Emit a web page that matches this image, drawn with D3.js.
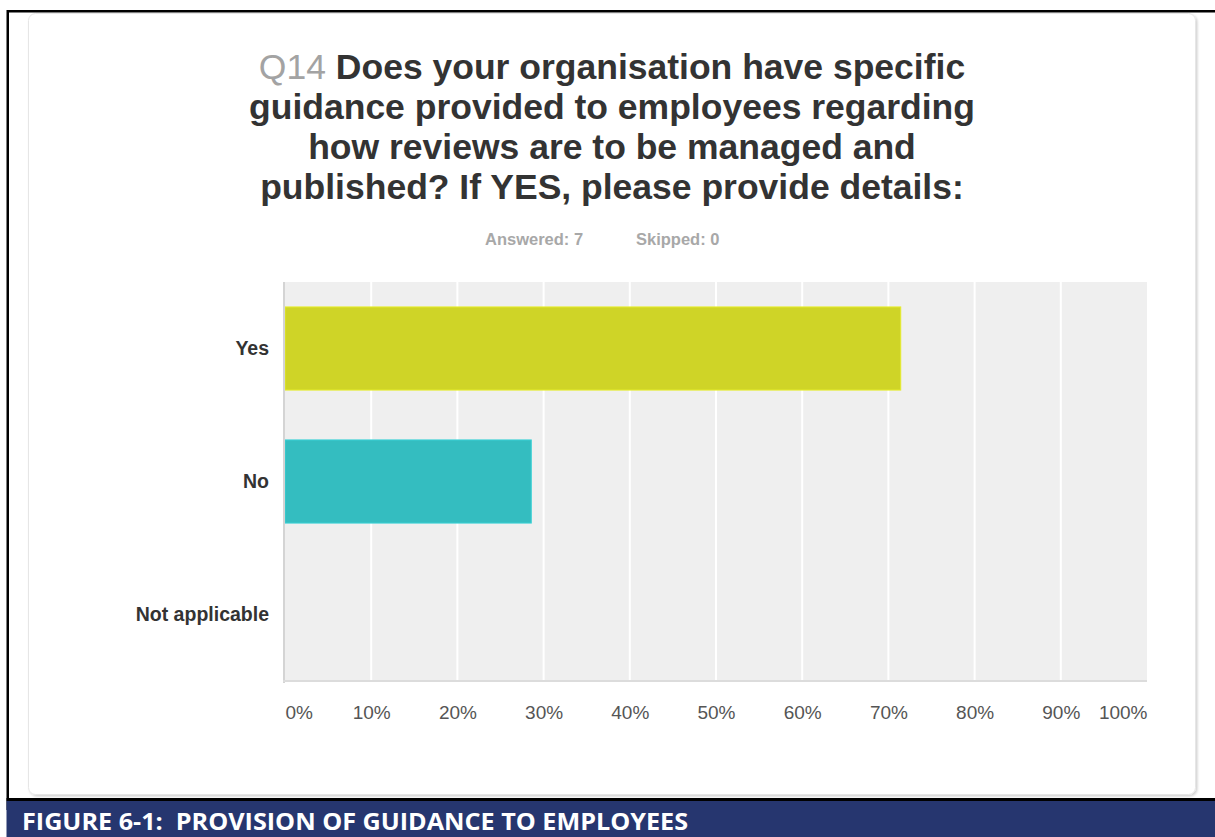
<!DOCTYPE html>
<html><head><meta charset="utf-8">
<script src="https://cdn.jsdelivr.net/npm/d3@7"></script>
<style>body{margin:0;background:#fff;overflow:hidden}</style>
</head><body>
<script>
const categories = ["Yes", "No", "Not applicable"];
const values = [71.43, 28.57, 0];
const barColors = ["#cfd427", "#34bdc0", "#f2a13a"];
const xTicks = [0, 10, 20, 30, 40, 50, 60, 70, 80, 90, 100];
const titleLines = [
  ["Q14 ", "Does your organisation have specific"],
  ["", "guidance provided to employees regarding"],
  ["", "how reviews are to be managed and"],
  ["", "published? If YES, please provide details:"]
];
const answeredText = "Answered: 7";
const skippedText = "Skipped: 0";
const caption = "FIGURE 6-1:  PROVISION OF GUIDANCE TO EMPLOYEES";

const W = 1215, H = 837;
const FONT = "'Liberation Sans', Arial, sans-serif";
const svg = d3.select("body").append("svg").attr("width", W).attr("height", H);

// outer frame
svg.append("rect").attr("x", 0).attr("y", 0).attr("width", W).attr("height", H).attr("fill", "#fff");
svg.append("rect").attr("x", 7).attr("y", 10).attr("width", W).attr("height", 2.5).attr("fill", "#000");
svg.append("rect").attr("x", 6.5).attr("y", 10).attr("width", 2.5).attr("height", 800).attr("fill", "#000");
svg.append("rect").attr("x", 6.5).attr("y", 798).attr("width", W).attr("height", 3).attr("fill", "#000");
svg.append("rect").attr("x", 6.5).attr("y", 801).attr("width", W).attr("height", 36).attr("fill", "#26366f");
svg.append("text").attr("x", 22).attr("y", 830).attr("fill", "#fff")
  .attr("font-family", "'Open Sans', sans-serif").attr("font-weight", "bold").attr("font-size", 23)
  .attr("textLength", 666).attr("lengthAdjust", "spacingAndGlyphs")
  .style("white-space", "pre").text(caption);

// card
const defs = svg.append("defs");
const f = defs.append("filter").attr("id", "sh").attr("x", "-5%").attr("y", "-5%").attr("width", "110%").attr("height", "110%");
f.append("feDropShadow").attr("dx", 1.5).attr("dy", 1.5).attr("stdDeviation", 1.2).attr("flood-color", "#000").attr("flood-opacity", 0.18);
svg.append("rect").attr("x", 28.5).attr("y", 13.5).attr("width", 1167).attr("height", 781).attr("rx", 7)
  .attr("fill", "#fff").attr("stroke", "#e6e6e6").attr("filter", "url(#sh)");

// title
const tg = svg.append("g").attr("font-family", FONT).attr("font-weight", "bold")
  .attr("font-size", 35.5).attr("text-anchor", "middle");
titleLines.forEach((l, i) => {
  const t = tg.append("text").attr("x", 612).attr("y", 79 + i * 40);
  if (l[0]) t.append("tspan").attr("fill", "#a3a3a3").attr("font-weight", "normal").text(l[0]);
  t.append("tspan").attr("fill", "#333").text(l[1]);
});
const sub = svg.append("g").attr("font-family", FONT).attr("font-weight", "bold").attr("font-size", 16.5).attr("fill", "#a8a8a8");
sub.append("text").attr("x", 485).attr("y", 245).text(answeredText);
sub.append("text").attr("x", 636).attr("y", 245).text(skippedText);

// plot
const x0 = 285, x1 = 1147, y0 = 282, y1 = 681;
const x = d3.scaleLinear().domain([0, 100]).range([x0, x1]);
const y = d3.scaleBand().domain(categories).range([y0, y1]).paddingInner(0.375).paddingOuter(0.1875);

svg.append("rect").attr("x", x0).attr("y", y0).attr("width", x1 - x0).attr("height", y1 - y0).attr("fill", "#efefef");
svg.append("g").selectAll("line").data(xTicks.slice(1, -1)).join("line")
  .attr("x1", d => x(d)).attr("x2", d => x(d)).attr("y1", y0).attr("y2", y1)
  .attr("stroke", "#fff").attr("stroke-width", 2);

svg.append("g").selectAll("rect").data(categories).join("rect")
  .attr("x", x(0)).attr("y", d => y(d))
  .attr("width", (d, i) => x(values[i]) - x(0)).attr("height", y.bandwidth())
  .attr("fill", (d, i) => barColors[i])
  .attr("stroke", (d, i) => d3.color(barColors[i]).brighter(0.3)).attr("stroke-width", 1)
  .style("display", (d, i) => values[i] > 0 ? null : "none");

// axis lines
svg.append("rect").attr("x", 283).attr("y", y0).attr("width", 2).attr("height", y1 - y0 + 2).attr("fill", "#d4d4d4");
svg.append("rect").attr("x", 283).attr("y", 680).attr("width", x1 - 283).attr("height", 2).attr("fill", "#dcdcdc");

// y labels
const yAxis = svg.append("g").attr("transform", `translate(${x0},0)`)
  .call(d3.axisLeft(y).tickSize(0).tickPadding(16));
yAxis.select(".domain").remove();
yAxis.selectAll("text").attr("font-family", FONT).attr("font-weight", "bold")
  .attr("font-size", 19.5).attr("fill", "#333");

// x labels
const xAxis = svg.append("g").attr("transform", `translate(0,${y1})`)
  .call(d3.axisBottom(x).tickValues(xTicks).tickSize(0).tickPadding(25).tickFormat(d => d + "%"));
xAxis.select(".domain").remove();
xAxis.selectAll("text").attr("font-family", FONT)
  .attr("font-size", 19).attr("fill", "#555")
  .attr("text-anchor", d => d === 0 ? "start" : d === 100 ? "end" : "middle");
</script>
</body></html>
